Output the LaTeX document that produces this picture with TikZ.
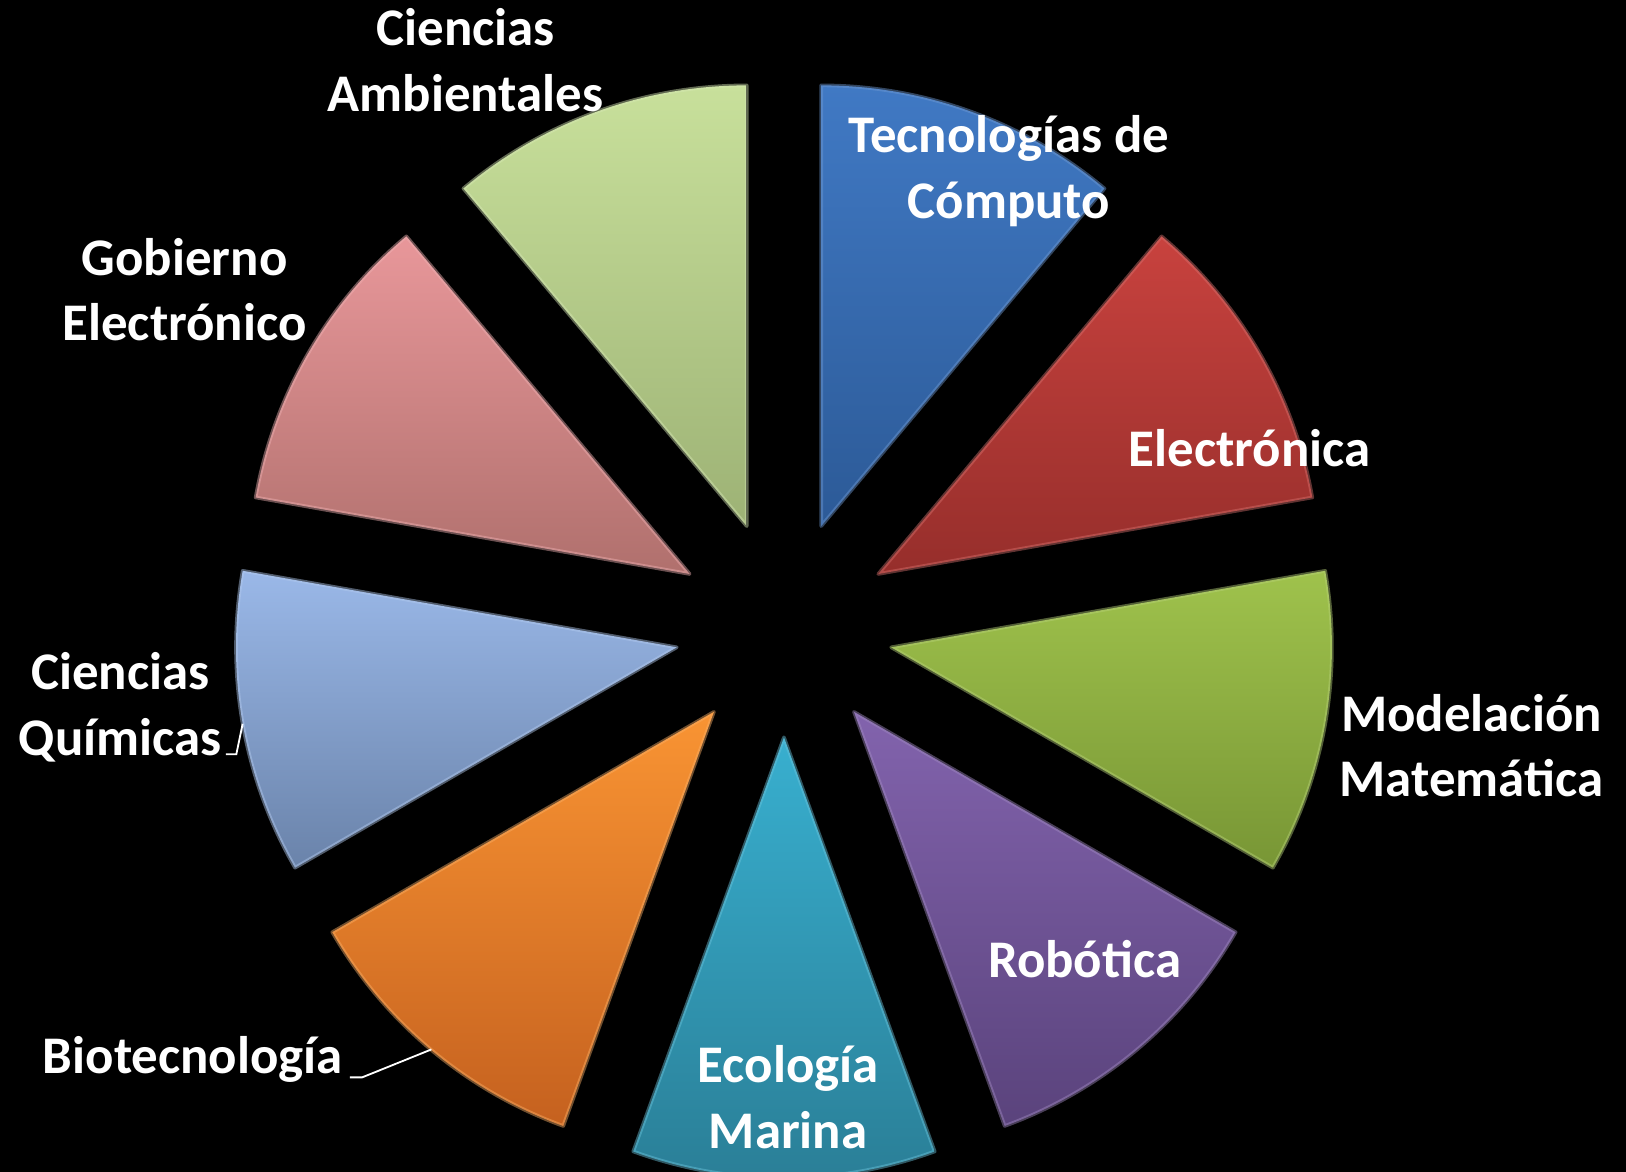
\documentclass[tikz,border=0pt]{standalone}
\usepackage{fontspec}
\setmainfont{Carlito}
\definecolor{c0t}{HTML}{4079C4}\definecolor{c0b}{HTML}{2C5A97}
\definecolor{c1t}{HTML}{C8423E}\definecolor{c1b}{HTML}{962E2B}
\definecolor{c2t}{HTML}{9FC24C}\definecolor{c2b}{HTML}{789635}
\definecolor{c3t}{HTML}{8263AD}\definecolor{c3b}{HTML}{5A437C}
\definecolor{c4t}{HTML}{38AFCF}\definecolor{c4b}{HTML}{2A7E96}
\definecolor{c5t}{HTML}{F99433}\definecolor{c5b}{HTML}{C5611F}
\definecolor{c6t}{HTML}{9AB8E8}\definecolor{c6b}{HTML}{6A83AA}
\definecolor{c7t}{HTML}{E8979A}\definecolor{c7b}{HTML}{B0706D}
\definecolor{c8t}{HTML}{C8E09B}\definecolor{c8b}{HTML}{9DB275}
\begin{document}
\begin{tikzpicture}[x=0.01cm,y=-0.01cm,
  lbl/.style={text=white, font=\bfseries\fontsize{14.5}{17.9}\selectfont, align=center, inner sep=0pt},
  leader/.style={draw=white, line width=0.5pt},
  slice/.style={line width=1pt, line join=round}]
\fill[black] (0,0) rectangle (1568,1130);
\useasboundingbox (0,0) rectangle (1568,1130);
\foreach \k in {0,...,8} {
  \pgfmathsetmacro\a{-70+40*\k}
  \pgfmathsetmacro\aa{\a-20}
  \pgfmathsetmacro\ab{\a+20}
  \pgfmathsetmacro\px{756+105*cos(\a)}
  \pgfmathsetmacro\py{606+105*sin(\a)}
  \begin{scope}[shift={(\px,\py)}]
    \shade[slice, top color=c\k t, bottom color=c\k b, draw=c\k t!75!white, draw opacity=0.45]
      (0,0) -- (\aa:425) arc[start angle=\aa, end angle=\ab, radius=425] -- cycle;
  \end{scope}
}
\node[lbl] (amb) at (449,58) {Ciencias\\Ambientales};
\node[lbl] (tec) at (973,165) {Tecnologías de\\Cómputo};
\node[lbl] (ele) at (1205,432) {Electrónica};
\node[lbl] (gob) at (178,279) {Gobierno\\Electrónico};
\node[lbl] (mod) at (1419,719) {Modelación\\Matemática};
\node[lbl] (qui) at (116,682) {Ciencias\\Químicas};
\node[lbl] (rob) at (1046,925) {Robótica};
\node[lbl] (eco) at (760,1058) {Ecología\\Marina};
\node[lbl] (bio) at (186,1022) {Biotecnología};
\coordinate (quiTip) at (234,698);
\coordinate (bioTip) at (416,1012);
\draw[leader] ([shift={(3.5,-8)}]qui.south east) -- ++(10,0) -- (quiTip);
\draw[leader] ([shift={(6,-6)}]bio.south east) -- ++(12,0) -- (bioTip);
\end{tikzpicture}
\end{document}
